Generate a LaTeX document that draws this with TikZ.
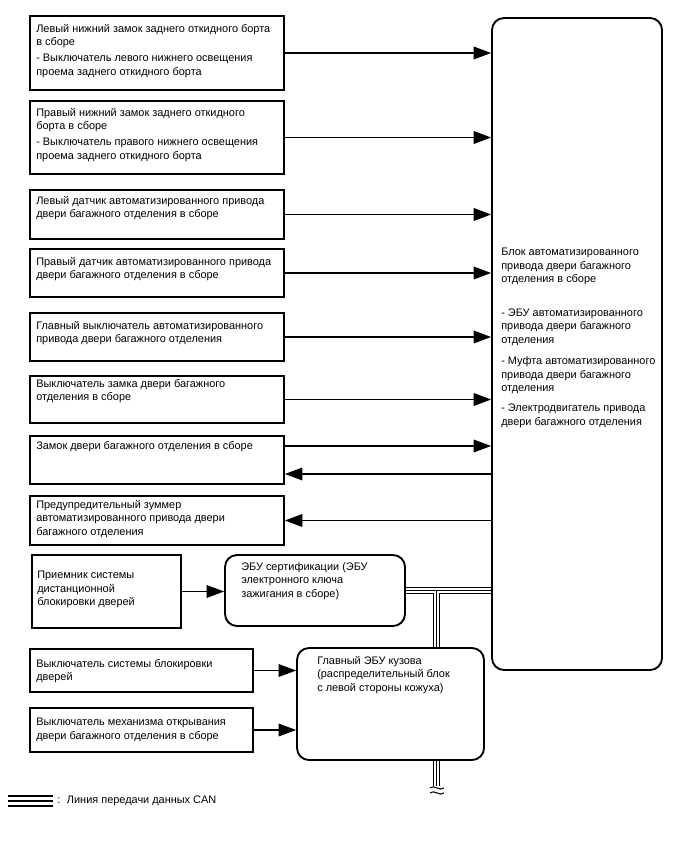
\documentclass[tikz,border=0pt]{standalone}
\usepackage{fontspec}
\setmainfont{Liberation Sans}
\usetikzlibrary{fit, calc, arrows.meta}
% triple CAN line: [scale]{path}
\newcommand{\canline}[2][1]{%
  \draw[line width=#1*5.25pt] #2;
  \draw[white, line width=#1*3.75pt] #2;
  \draw[line width=#1*0.75pt] #2;}

\begin{document}
\begin{tikzpicture}[x=0.75pt, y=-0.75pt,
    box/.style={draw, line width=1.4pt, inner sep=0pt},
    rbox/.style={box, rounded corners=9pt},
    txt/.style={anchor=north west, inner sep=0pt, align=left, font=\fontsize{8.2}{10.1}\selectfont},
    arr/.style={line width=0.8pt, -{Triangle[length=13pt, width=9.5pt]}}]
  \useasboundingbox (0,0) rectangle (688,852);
  % boxes
  \node[box, fit={(30,16) (284,90)}] (lo1) {};
  \node[box, fit={(30,101) (284,174)}] (lo2) {};
  \node[box, fit={(30,190) (284,239)}] (lo3) {};
  \node[box, fit={(30,249) (284,297)}] (lo4) {};
  \node[box, fit={(30,313) (284,361)}] (lo5) {};
  \node[box, fit={(30,376) (284,423)}] (lo6) {};
  \node[box, fit={(30,436) (284,484)}] (lo7) {};
  \node[box, fit={(30,496) (284,545)}] (lo8) {};
  \node[box, fit={(32,555) (181,628)}] (rcv) {};
  \node[box, fit={(30,649) (253,692)}] (lo10) {};
  \node[box, fit={(30,708) (253,752)}] (lo11) {};
  \node[rbox, fit={(225,555) (405,626)}] (cert) {};
  \node[rbox, fit={(297,648) (484,760)}] (body) {};
  \node[rbox, fit={(492,18) (662,670)}] (blk) {};
  % texts
  \node[txt] (t1) at (36,24) {Левый нижний замок заднего откидного борта\\в сборе\\[2pt]- Выключатель левого нижнего освещения\\проема заднего откидного борта};
  \node[txt] (t2) at (36,108) {Правый нижний замок заднего откидного\\борта в сборе\\[2pt]- Выключатель правого нижнего освещения\\проема заднего откидного борта};
  \node[txt] (t3) at (36,196) {Левый датчик автоматизированного привода\\двери багажного отделения в сборе};
  \node[txt] (t4) at (36,257) {Правый датчик автоматизированного привода\\двери багажного отделения в сборе};
  \node[txt] (t5) at (36,321) {Главный выключатель автоматизированного\\привода двери багажного отделения};
  \node[txt] (t6) at (36,379) {Выключатель замка двери багажного\\отделения в сборе};
  \node[txt] (t7) at (36,441) {Замок двери багажного отделения в сборе};
  \node[txt] (t8) at (36,500) {Предупредительный зуммер\\автоматизированного привода двери\\багажного отделения};
  \node[txt] (t9) at (37,571) {Приемник системы\\дистанционной\\блокировки дверей};
  \node[txt] (t10) at (36,659) {Выключатель системы блокировки\\дверей};
  \node[txt] (t11) at (36,718) {Выключатель механизма открывания\\двери багажного отделения в сборе};
  \node[txt] (t12) at (241,562) {ЭБУ сертификации (ЭБУ\\электронного ключа\\зажигания в сборе)};
  \node[txt] (t13) at (317,656) {Главный ЭБУ кузова\\(распределительный блок\\с левой стороны кожуха)};
  \node[txt] (t14) at (501,248) {Блок автоматизированного\\привода двери багажного\\отделения в сборе\\[15pt]- ЭБУ автоматизированного\\привода двери багажного\\отделения\\[6pt]- Муфта автоматизированного\\привода двери багажного\\отделения\\[5pt]- Электродвигатель привода\\двери багажного отделения};
  % arrows to and from the block
  \foreach \b in {lo1, lo2, lo3, lo4, lo5, lo6}
    \draw[arr] (\b.east) -- (\b.east -| blk.west);
  \coordinate (lo7in) at ($(lo7.east)+(0,-14)$);
  \coordinate (lo7out) at ($(lo7.east)+(0,14)$);
  \draw[arr] (lo7in) -- (lo7in -| blk.west);
  \draw[arr] (lo7out -| blk.west) -- (lo7out);
  \draw[arr] (lo8.east -| blk.west) -- (lo8.east);
  \draw[arr] (rcv.east) -- (rcv.east -| cert.west);
  \draw[arr] (lo10.east) -- (lo10.east -| body.west);
  \draw[arr] (lo11.east) -- (lo11.east -| body.west);
  % CAN bus
  \coordinate (canT) at ($(cert.east)+(31,0)$);
  \coordinate (canE) at ($(canT |- body.south)+(0,27)$);
  \canline{(cert.east) -- (cert.east -| blk.west) (canT) -- (canT |- body.north) (canT |- body.south) -- (canE)}
  \begin{scope}[shift={(canE)}, line width=0.8pt]
    \fill[white] (-8,-2) rectangle (8,6);
    \draw (-7,0) .. controls (-3,-4) and (3,4) .. (7,0);
    \draw (-7,5) .. controls (-3,1) and (3,9) .. (7,5);
  \end{scope}
  % legend
  \coordinate (lgA) at (8,801);
  \canline[1.7]{(lgA) -- ++(45,0)}
  \node[txt, anchor=west] (lgd) at (57,801) {:\hspace{5pt}Линия передачи данных CAN};
\end{tikzpicture}
\end{document}
